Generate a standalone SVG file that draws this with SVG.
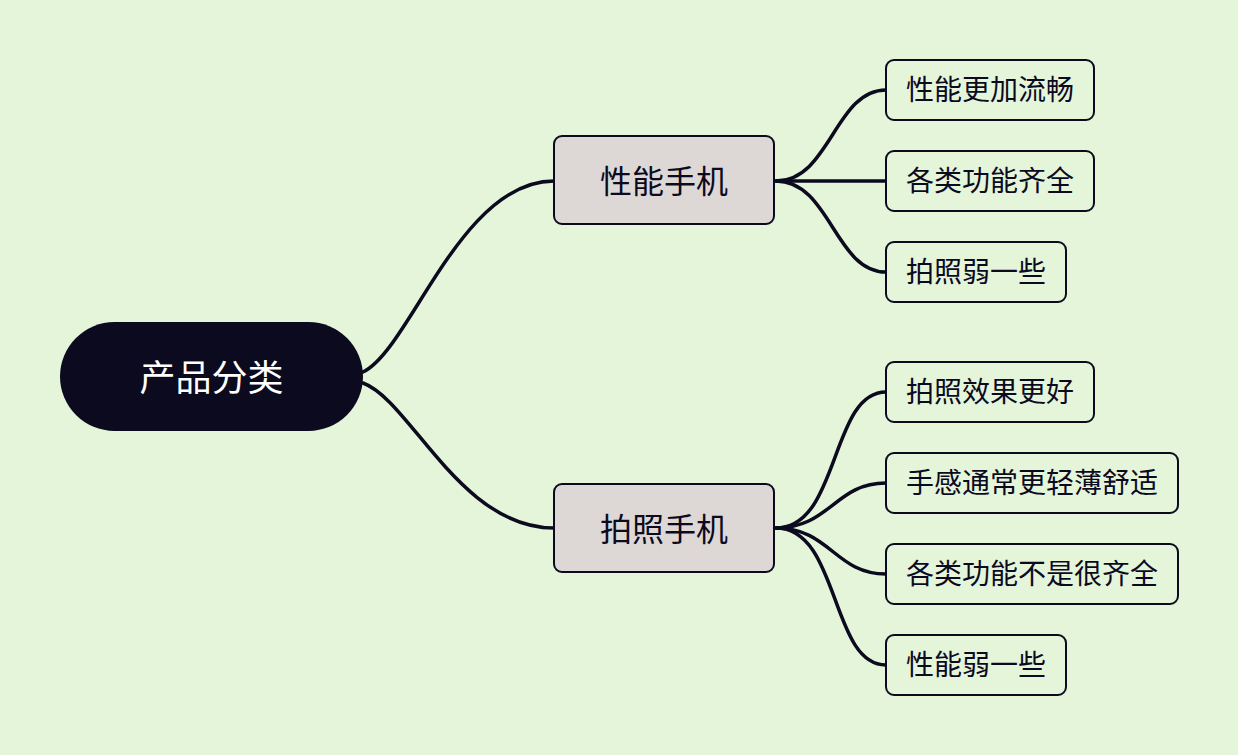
<svg xmlns="http://www.w3.org/2000/svg" width="1238" height="755" viewBox="0 0 1238 755">
<style>
.ln{fill:none;stroke:#0C0A1E;stroke-width:3.5;stroke-linecap:round}
.br rect{fill:#DDD8D6;stroke:#0C0A1E;stroke-width:2}
.lf rect{fill:#E4F5DA;stroke:#0C0A1E;stroke-width:2}
text{font-family:"Noto Sans CJK SC","Noto Sans",sans-serif;fill:#0C0A1E;dominant-baseline:central}
.br text{font-size:32px;text-anchor:middle}
.lf text{font-size:28px}
</style>
<rect width="1238" height="755" fill="#E4F5DA"/>
<g id="connectors">
<path class="ln" d="M363,372 C410,350 460,181 554,181"/>
<path class="ln" d="M363,383 C410,400 460,528 554,528"/>
<path class="ln" d="M776,181 C830,181 835,90 886,90"/>
<path class="ln" d="M776,181 L886,181"/>
<path class="ln" d="M776,181 C830,181 835,272 886,272"/>
<path class="ln" d="M776,528 C840,528 830,392 886,392"/>
<path class="ln" d="M776,528 C830,528 835,483 886,483"/>
<path class="ln" d="M776,528 C830,528 835,574 886,574"/>
<path class="ln" d="M776,528 C840,528 830,665 886,665"/>
</g>
<g id="root">
<rect x="60" y="322" width="303" height="109" rx="54.5" fill="#0C0A1E"/>
<text x="211.5" y="375" font-size="36" text-anchor="middle" style="fill:#FFFFFF">产品分类</text>
</g>
<g id="b1" class="br"><rect x="554" y="136" width="220" height="88" rx="8"/><text x="664" y="179">性能手机</text></g>
<g id="b2" class="br"><rect x="554" y="484" width="220" height="88" rx="8"/><text x="664" y="527">拍照手机</text></g>
<g id="l1" class="lf"><rect x="886" y="60" width="208" height="60" rx="8"/><text x="906" y="88">性能更加流畅</text></g>
<g id="l2" class="lf"><rect x="886" y="151" width="208" height="60" rx="8"/><text x="906" y="179">各类功能齐全</text></g>
<g id="l3" class="lf"><rect x="886" y="242" width="180" height="60" rx="8"/><text x="906" y="270">拍照弱一些</text></g>
<g id="l4" class="lf"><rect x="886" y="362" width="208" height="60" rx="8"/><text x="906" y="390">拍照效果更好</text></g>
<g id="l5" class="lf"><rect x="886" y="453" width="292" height="60" rx="8"/><text x="906" y="481">手感通常更轻薄舒适</text></g>
<g id="l6" class="lf"><rect x="886" y="544" width="292" height="60" rx="8"/><text x="906" y="572">各类功能不是很齐全</text></g>
<g id="l7" class="lf"><rect x="886" y="635" width="180" height="60" rx="8"/><text x="906" y="663">性能弱一些</text></g>
</svg>
